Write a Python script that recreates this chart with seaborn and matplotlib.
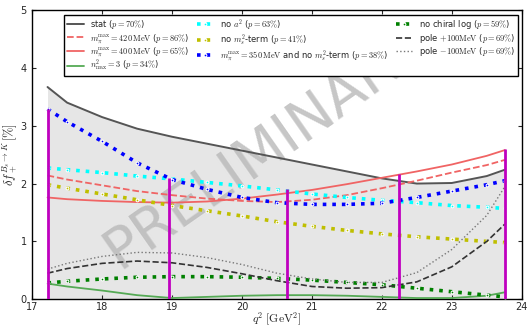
import numpy as np
import pandas as pd
import matplotlib
matplotlib.use("Agg")
import matplotlib.pyplot as plt
import seaborn as sns

q2 = [17.22, 17.5, 18.0, 18.5, 19.0, 19.5, 20.0, 20.5, 21.0, 21.5, 22.0, 22.5, 23.0, 23.5, 23.76]

stat      = [3.67, 3.40, 3.15, 2.95, 2.81, 2.69, 2.57, 2.45, 2.33, 2.21, 2.09, 2.00, 2.01, 2.13, 2.24]
mpi420    = [2.14, 2.07, 1.97, 1.87, 1.80, 1.74, 1.70, 1.68, 1.72, 1.80, 1.92, 2.05, 2.19, 2.32, 2.41]
mpi400    = [1.76, 1.73, 1.70, 1.68, 1.67, 1.69, 1.74, 1.81, 1.89, 1.99, 2.10, 2.21, 2.33, 2.48, 2.58]
n2max3    = [0.27, 0.22, 0.15, 0.07, 0.02, 0.04, 0.06, 0.07, 0.07, 0.06, 0.04, 0.02, 0.02, 0.06, 0.12]
no_a2     = [2.27, 2.24, 2.19, 2.13, 2.08, 2.02, 1.96, 1.89, 1.82, 1.76, 1.71, 1.67, 1.62, 1.59, 1.57]
no_ms2    = [1.98, 1.92, 1.82, 1.72, 1.62, 1.53, 1.44, 1.34, 1.26, 1.19, 1.13, 1.08, 1.04, 1.00, 0.98]
mpi350    = [3.29, 3.07, 2.73, 2.36, 2.07, 1.90, 1.76, 1.67, 1.64, 1.64, 1.66, 1.76, 1.87, 1.98, 2.05]
no_chlog  = [0.28, 0.31, 0.35, 0.38, 0.39, 0.39, 0.38, 0.36, 0.33, 0.29, 0.25, 0.19, 0.13, 0.07, 0.04]
pole_p100 = [0.45, 0.53, 0.62, 0.66, 0.63, 0.55, 0.44, 0.32, 0.22, 0.19, 0.20, 0.30, 0.56, 1.00, 1.30]
pole_m100 = [0.52, 0.62, 0.74, 0.81, 0.80, 0.72, 0.60, 0.45, 0.35, 0.29, 0.29, 0.46, 0.86, 1.45, 1.95]

# vertical bars (systematic envelope at reference q^2 points)
bar_q2 = [17.22, 18.96, 20.64, 22.24, 23.76]
bar_hi = [3.29, 2.10, 1.90, 2.16, 2.59]

labels = {
    "stat": r"stat ($p=70\%$)",
    "mpi420": r"$m_\pi^{\rm max}=420\,{\rm MeV}$ ($p=86\%$)",
    "mpi400": r"$m_\pi^{\rm max}=400\,{\rm MeV}$ ($p=65\%$)",
    "n2max3": r"$n^2_{\rm max}=3$ ($p=34\%$)",
    "no_a2": r"no $a^2$ ($p=63\%$)",
    "no_ms2": r"no $m_s^2$-term ($p=41\%$)",
    "mpi350": r"$m_\pi^{\rm max}=350\,{\rm MeV}$ and no $m_s^2$-term ($p=38\%$)",
    "no_chlog": r"no chiral log ($p=59\%$)",
    "pole_p100": r"pole $+100{\rm MeV}$ ($p=69\%$)",
    "pole_m100": r"pole $-100{\rm MeV}$ ($p=69\%$)",
}

sns.set_theme(style="ticks")
plt.rcParams["font.family"] = ["DejaVu Sans"]
plt.rcParams["mathtext.fontset"] = "cm"

fig, ax = plt.subplots(figsize=(5.27, 3.27), dpi=100)
fig.subplots_adjust(left=0.061, right=0.990, bottom=0.085, top=0.969)

ax.fill_between(q2, 0, stat, color="#e6e6e6", lw=0, zorder=0)
ax.text(0.475, 0.52, "PRELIMINARY", transform=ax.transAxes, rotation=35,
        fontsize=41, color="#b8b8b8", alpha=0.8, ha="center", va="center", zorder=0.5)

series = [
    ("stat", stat, dict(color="#555555", ls="-", lw=1.4)),
    ("mpi420", mpi420, dict(color="#f06464", ls="--", lw=1.3)),
    ("mpi400", mpi400, dict(color="#f06464", ls="-", lw=1.3)),
    ("n2max3", n2max3, dict(color="#55aa55", ls="-", lw=1.3)),
    ("no_a2", no_a2, dict(color="cyan", ls=":", lw=2.6, marker=".", ms=4)),
    ("no_ms2", no_ms2, dict(color="#bfbf00", ls=":", lw=2.6, marker=".", ms=4)),
    ("mpi350", mpi350, dict(color="blue", ls=":", lw=2.6, marker=".", ms=4)),
    ("no_chlog", no_chlog, dict(color="green", ls=":", lw=2.6, marker=".", ms=4)),
    ("pole_p100", pole_p100, dict(color="#333333", ls="--", lw=1.2)),
    ("pole_m100", pole_m100, dict(color="#777777", ls=":", lw=1.0)),
]
for key, vals, style in series:
    df = pd.DataFrame({"q2": q2, "v": vals})
    sns.lineplot(data=df, x="q2", y="v", ax=ax, label=labels[key], sort=False,
                 zorder=3, **style)

ax.vlines(bar_q2, 0, bar_hi, color="#bf00bf", lw=2, zorder=4)

ax.set_xlim(17, 24)
ax.set_ylim(0, 5)
ax.set_xticks(range(17, 25))
ax.set_yticks(range(0, 6))
ax.tick_params(direction="in", top=True, right=True, labelsize=7, length=3, width=0.8, pad=2)
ax.tick_params(axis="y", pad=4)
for s in ax.spines.values():
    s.set_color("black")
    s.set_linewidth(1.0)
ax.set_xlabel(r"$q^2\;[{\rm GeV}^2]$", fontsize=8.5, labelpad=-1)
ax.set_ylabel(r"$\delta f_+^{B_s\to K}\,[\%]$", fontsize=9, labelpad=0)

leg = ax.legend(ncol=3, loc="upper right", bbox_to_anchor=(0.996, 0.99), fontsize=6,
                frameon=True, fancybox=False, edgecolor="black", framealpha=1,
                numpoints=1, handlelength=2.0, columnspacing=0.9, labelspacing=0.05,
                borderpad=0.3, handletextpad=0.8, borderaxespad=0.2)
leg.get_frame().set_linewidth(1.0)
leg.set_zorder(10)

fig.savefig("out.png", dpi=100)
